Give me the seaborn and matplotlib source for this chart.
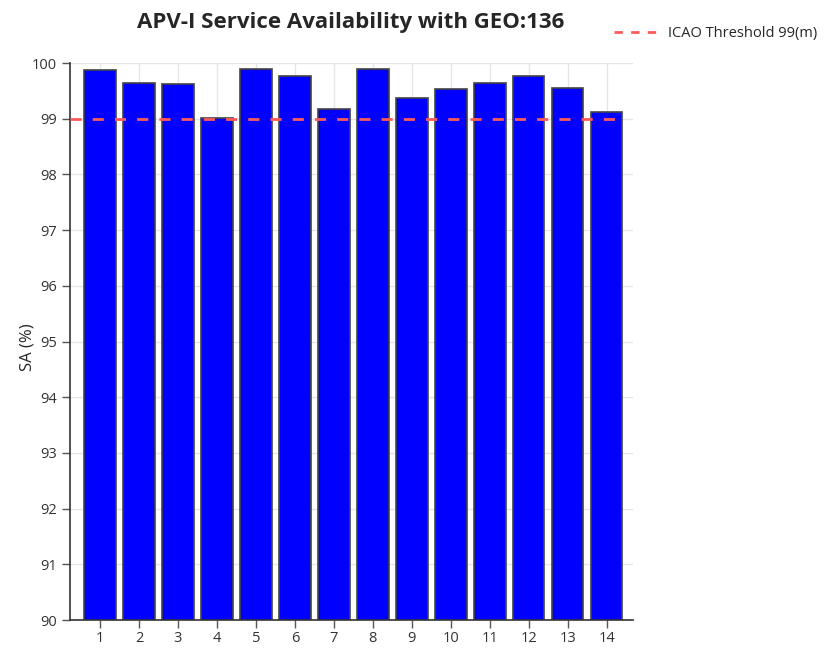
import pandas as pd
import seaborn as sns
import matplotlib.pyplot as plt
from matplotlib.lines import Line2D

# Data
stations = [str(i) for i in range(1, 15)]
availability = [99.88, 99.64, 99.62, 99.01, 99.89, 99.76, 99.18,
                99.89, 99.38, 99.53, 99.65, 99.77, 99.56, 99.13]
threshold = 99
threshold_label = "ICAO Threshold 99(m)"
y_ticks = list(range(90, 101))

df = pd.DataFrame({"station": stations, "sa": availability})

sns.set_style("white")
plt.rcParams['font.family'] = ['Open Sans', 'DejaVu Sans']

fig = plt.figure(figsize=(8.28, 6.5), dpi=100)
ax = fig.add_axes([0.0845, 0.046, 0.68, 0.857])

sns.barplot(data=df, x="station", y="sa", color="#0000ff", saturation=1,
            edgecolor="#444444", linewidth=1.2, width=0.8, ax=ax)

# threshold line spans the plotting band, stopping just short of the right end
ax.hlines(threshold, -0.77, 13.42, color="#ff5a5a", linestyles=(0, (4, 4)),
          linewidth=2, zorder=3)

ax.set_ylim(90, 100)
ax.set_xlim(-0.77, 13.67)
ax.set_yticks(y_ticks)
ax.grid(True, color="#e6e6e6", linewidth=1)
ax.set_axisbelow(True)
for s in ["top", "right"]:
    ax.spines[s].set_visible(False)
for s in ["left", "bottom"]:
    ax.spines[s].set_color("#333333")
    ax.spines[s].set_linewidth(1.2)
ax.tick_params(axis="both", length=6, width=1, color="#555555",
               labelsize=10.5, labelcolor="#333333", bottom=True, left=True)
ax.tick_params(axis="x", pad=2)

ax.set_xlabel("")
ax.set_ylabel("SA (%)", fontsize=12)
ax.yaxis.set_label_coords(-0.062, 0.49)
fig.text(0.423, 0.965, "APV-I Service Availability with GEO:136",
         ha="center", va="center", fontsize=16, fontweight="bold")

handle = Line2D([], [], color="#ff5a5a", linestyle=(0, (3, 3)), linewidth=2)
fig.legend([handle], [threshold_label], loc="center right",
           bbox_to_anchor=(1.003, 0.949), frameon=False, fontsize=10.5,
           handlelength=3.0, handletextpad=0.7)

fig.savefig("out.png", dpi=100)
